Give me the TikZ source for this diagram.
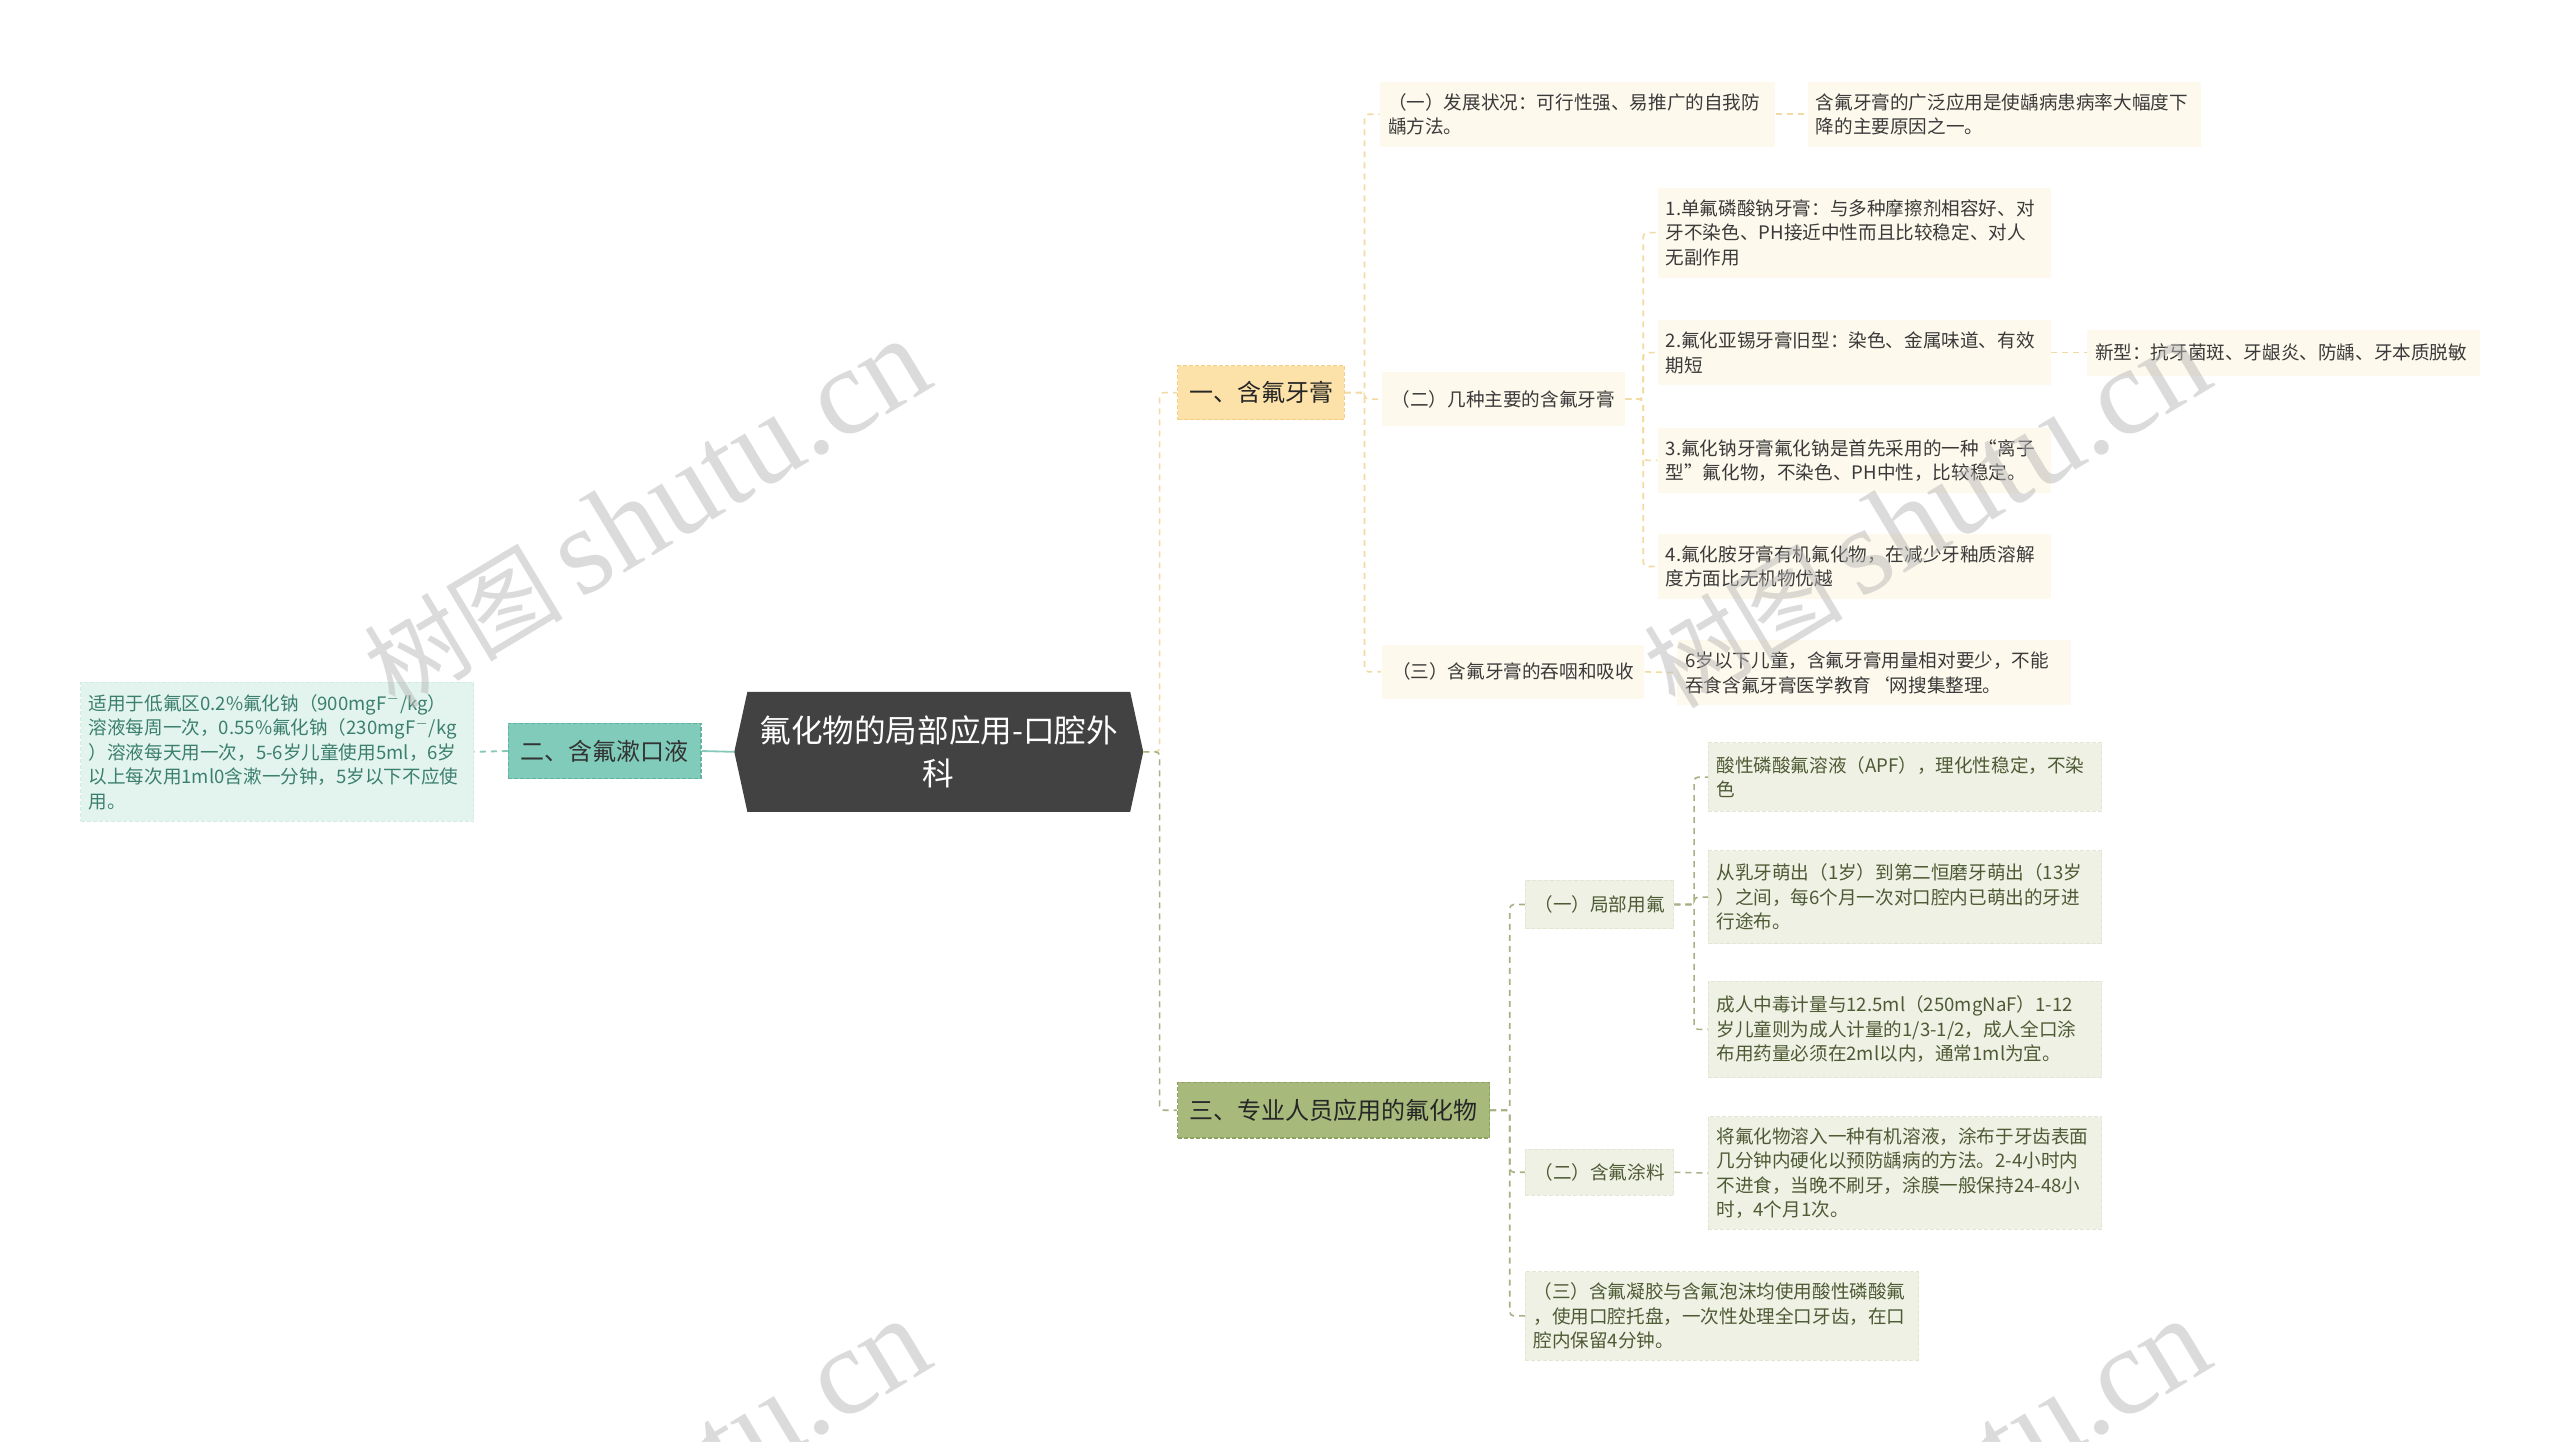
\documentclass[tikz,border=0pt]{standalone}
\usepackage{fontspec}
\setmainfont{Noto Sans CJK SC}
\newfontfamily\wmfont{Liberation Serif}
\usetikzlibrary{backgrounds}
\definecolor{rootfill}{HTML}{424242}
\definecolor{upfill}{HTML}{FDF9EC}
\definecolor{upbr}{HTML}{FCE2A8}
\definecolor{upbrd}{HTML}{F3CF86}
\definecolor{uplinec}{HTML}{F1DBA3}
\definecolor{uptext}{HTML}{3A3A3A}
\definecolor{lofill}{HTML}{EFF1E5}
\definecolor{lofilld}{HTML}{E2E6D3}
\definecolor{lobr}{HTML}{A7BA7C}
\definecolor{lobrd}{HTML}{8FA263}
\definecolor{lolinec}{HTML}{A6B284}
\definecolor{lotext}{HTML}{4E5A34}
\definecolor{lfill}{HTML}{E3F4EF}
\definecolor{lfilld}{HTML}{D2ECE5}
\definecolor{lbr}{HTML}{80CBB9}
\definecolor{lbrd}{HTML}{62B4A1}
\definecolor{llinec}{HTML}{86C8B7}
\definecolor{ltext}{HTML}{3B7F6D}
\definecolor{wmgray}{HTML}{B8B8B8}
\begin{document}
\begin{tikzpicture}[x=0.8163pt,y=-0.8163pt,
  sz/.style 2 args={text width=#1*0.8163pt, minimum height=#2*0.8163pt},
  mw/.style 2 args={minimum width=#1*0.8163pt, minimum height=#2*0.8163pt},
  txt/.style={font=\fontsize{9.3pt}{12.25pt}\selectfont, inner xsep=4.08pt, inner ysep=0pt, anchor=west, align=left},
  upleaf/.style={txt, fill=upfill, text=uptext},
  loleaf/.style={txt, fill=lofill, text=lotext, draw=lofilld, dash pattern=on 2pt off 1pt, line width=0.5pt},
  lleaf/.style={txt, fill=lfill, text=ltext, draw=lfilld, dash pattern=on 2pt off 1pt, line width=0.5pt},
  brbase/.style={font=\fontsize{12pt}{14pt}\selectfont, inner sep=0pt, anchor=west, align=center, line width=0.6pt, dash pattern=on 2pt off 1pt},
  upbranch/.style={brbase, fill=upbr, draw=upbrd, text=black!85},
  lobranch/.style={brbase, fill=lobr, draw=lobrd, text=black!85},
  lbranch/.style={brbase, fill=lbr, draw=lbrd, text=black!80},
  rootnode/.style={font=\fontsize{15.8pt}{21.5pt}\selectfont, inner sep=0pt, align=center, text=white},
  conn/.style={line width=0.8pt, rounded corners=2pt, dash pattern=on 3pt off 2.5pt},
  uconn/.style={conn, draw=uplinec},
  loconn/.style={conn, draw=lolinec},
  lconn/.style={line width=0.9pt, draw=llinec},
  wm/.style={rotate=31, text=wmgray, opacity=0.5, inner sep=0pt}
]
\useasboundingbox (0,0) rectangle (1568,883);
\clip (0,0) rectangle (1568,883);

% root
\node[rootnode, mw={250}{73}] (root) at (575,460.5) {氟化物的局部应用-口腔外\\科};
\begin{scope}[on background layer]
\fill[rootfill] (root.west) -- ([xshift=6.53pt]root.north west) -- ([xshift=-6.53pt]root.north east) -- (root.east) -- ([xshift=-6.53pt]root.south east) -- ([xshift=6.53pt]root.south west) -- cycle;
\end{scope}

% left branch
\node[lbranch, mw={118}{34}] (b2) at (311,460) {二、含氟漱口液};
\node[lleaf, sz={231}{85}] (l1) at (49,460.5) {适用于低氟区0.2\%氟化钠（900mgF$^{-}$/kg）\\溶液每周一次，0.55\%氟化钠（230mgF$^{-}$/kg\\）溶液每天用一次，5-6岁儿童使用5ml，6岁\\以上每次用1ml0含漱一分钟，5岁以下不应使\\用。};

% upper branch
\node[upbranch, mw={102}{33}] (b1) at (721,240.5) {一、含氟牙膏};
\node[upleaf, sz={232}{40}] (u1) at (845,70) {（一）发展状况：可行性强、易推广的自我防\\龋方法。};
\node[upleaf, sz={231}{40}] (u1c) at (1107,70) {含氟牙膏的广泛应用是使龋病患病率大幅度下\\降的主要原因之一。};
\node[upleaf, align=center, mw={149}{33}] (u2) at (846,244.5) {（二）几种主要的含氟牙膏};
\node[upleaf, sz={231}{55}] (u21) at (1015,142.5) {1.单氟磷酸钠牙膏：与多种摩擦剂相容好、对\\牙不染色、PH接近中性而且比较稳定、对人\\无副作用};
\node[upleaf, sz={231}{40}] (u22) at (1015,216) {2.氟化亚锡牙膏旧型：染色、金属味道、有效\\期短};
\node[upleaf, sz={231}{28}] (u22c) at (1278,216) {新型：抗牙菌斑、牙龈炎、防龋、牙本质脱敏};
\node[upleaf, sz={231}{40}] (u23) at (1015,282) {3.氟化钠牙膏氟化钠是首先采用的一种“离子\\型”氟化物，不染色、PH中性，比较稳定。};
\node[upleaf, sz={231}{40}] (u24) at (1015,347) {4.氟化胺牙膏有机氟化物，在减少牙釉质溶解\\度方面比无机物优越};
\node[upleaf, align=center, mw={161}{33}] (u3) at (846,411.5) {（三）含氟牙膏的吞咽和吸收};
\node[upleaf, sz={231}{40}] (u3c) at (1027,412) {6岁以下儿童，含氟牙膏用量相对要少，不能\\吞食含氟牙膏医学教育\symbol{96}网搜集整理。};

% lower branch
\node[lobranch, mw={191}{34}] (b3) at (721,680) {三、专业人员应用的氟化物};
\node[loleaf, align=center, mw={91}{30}] (lo1) at (934,554) {（一）局部用氟};
\node[loleaf, sz={231}{42}] (lo11) at (1046,476) {酸性磷酸氟溶液（APF），理化性稳定，不染\\色};
\node[loleaf, sz={231}{57}] (lo12) at (1046,549.5) {从乳牙萌出（1岁）到第二恒磨牙萌出（13岁\\）之间，每6个月一次对口腔内已萌出的牙进\\行途布。};
\node[loleaf, sz={231}{59}] (lo13) at (1046,630.5) {成人中毒计量与12.5ml（250mgNaF）1-12\\岁儿童则为成人计量的1/3-1/2，成人全口涂\\布用药量必须在2ml以内，通常1ml为宜。};
\node[loleaf, align=center, mw={91}{28}] (lo2) at (934,718) {（二）含氟涂料};
\node[loleaf, sz={231}{69}] (lo2c) at (1046,718.5) {将氟化物溶入一种有机溶液，涂布于牙齿表面\\几分钟内硬化以预防龋病的方法。2-4小时内\\不进食，当晚不刷牙，涂膜一般保持24-48小\\时，4个月1次。};
\node[loleaf, sz={231}{54}] (lo3) at (934,806) {（三）含氟凝胶与含氟泡沫均使用酸性磷酸氟\\，使用口腔托盘，一次性处理全口牙齿，在口\\腔内保留4分钟。};

% connectors
\draw[lconn] (root.west) -- (b2.east);
\draw[lconn, dash pattern=on 3pt off 2.5pt] (b2.west) -- (l1.east);
\draw[uconn] (root.east) -- ++(10,0) |- (b1.west);
\draw[loconn] (root.east) -- ++(10,0) |- (b3.west);

\draw[uconn] (b1.east) -- ++(12,0) |- (u1.west);
\draw[uconn] (b1.east) -- ++(12,0) |- (u2.west);
\draw[uconn] (b1.east) -- ++(12,0) |- (u3.west);
\draw[uconn] (u1.east) -- (u1c.west);
\draw[uconn] (u2.east) -- ++(11,0) |- (u21.west);
\draw[uconn] (u2.east) -- ++(11,0) |- (u22.west);
\draw[uconn] (u2.east) -- ++(11,0) |- (u23.west);
\draw[uconn] (u2.east) -- ++(11,0) |- (u24.west);
\draw[uconn] (u22.east) -- (u22c.west);
\draw[uconn] (u3.east) -- (u3c.west);

\draw[loconn] (b3.east) -- ++(12,0) |- (lo1.west);
\draw[loconn] (b3.east) -- ++(12,0) |- (lo2.west);
\draw[loconn] (b3.east) -- ++(12,0) |- (lo3.west);
\draw[loconn] (lo1.east) -- ++(12,0) |- (lo11.west);
\draw[loconn] (lo1.east) -- ++(12,0) |- (lo12.west);
\draw[loconn] (lo1.east) -- ++(12,0) |- (lo13.west);
\draw[loconn] (lo2.east) -- (lo2c.west);

% watermarks
\foreach \wx/\wy [count=\i] in {396/315, 1180/315, 396/915, 1180/915}{
  \node[wm] (wm\i) at (\wx,\wy) {\fontsize{50pt}{50pt}\selectfont 树图\,{\wmfont\fontsize{62pt}{62pt}\selectfont shutu.cn}};
}
\end{tikzpicture}
\end{document}
